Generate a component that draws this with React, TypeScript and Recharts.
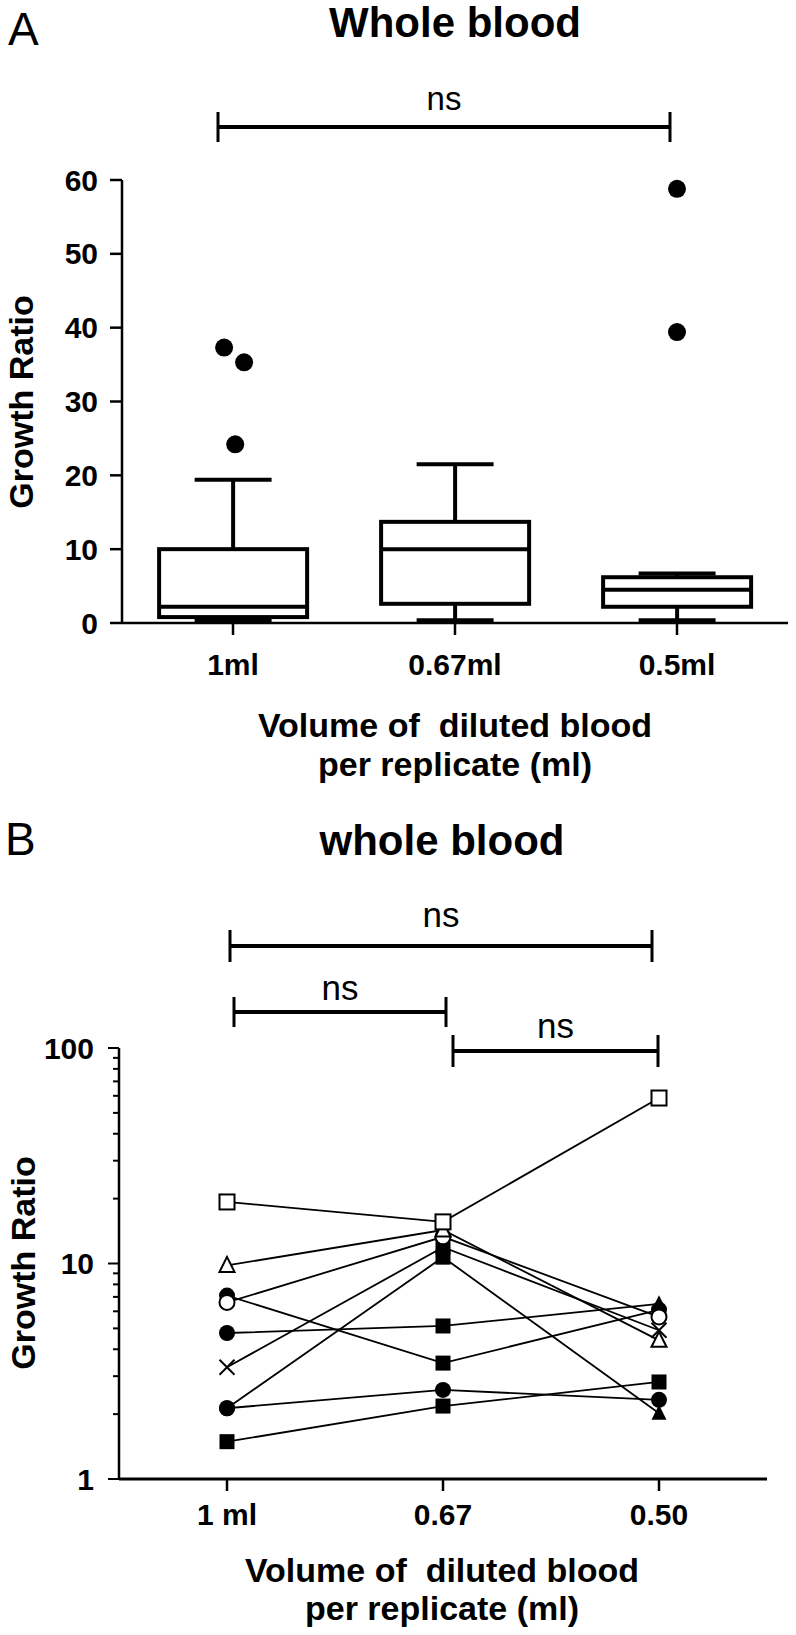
import React from 'react';
import { ComposedChart, LineChart, Bar, Scatter, Line, XAxis, YAxis } from 'recharts';

const FONT = '"Liberation Sans", Arial, Helvetica, sans-serif';

// ---- Panel A: box plot of growth ratio per volume ----
const volumesA = ['1ml', '0.67ml', '0.5ml'];
const whiskerLow = [0.3, 0.3, 0.3];
const quart1 = [0.8, 2.6, 2.2];
const medians = [2.2, 10.0, 4.5];
const quart3 = [10.0, 13.7, 6.2];
const whiskerHigh = [19.4, 21.5, 6.7];

// outliers: group index, value, small horizontal dodge (in category units)
const outlierGroup = [0, 0, 0, 2, 2];
const outlierValue = [37.3, 35.3, 24.2, 58.8, 39.4];
const outlierDodge = [-0.04, 0.05, 0.01, 0, 0];

const yTicksA = [0, 10, 20, 30, 40, 50, 60];

// ---- Panel B: paired values per replicate, log scale ----
const volumesB = ['1 ml', '0.67', '0.50'];
const donor1 = [19.3, 15.6, 58.6];
const donor2 = [9.8, 14.3, 4.4];
const donor3 = [6.6, 13.3, 5.65];
const donor4 = [7.1, 3.45, 6.1];
const donor5 = [4.76, 5.13, 6.5];
const donor6 = [3.3, 11.9, 4.9];
const donor7 = [2.13, 10.7, 2.02];
const donor8 = [2.13, 2.59, 2.33];
const donor9 = [1.49, 2.18, 2.82];

const shapes1 = ['oSq', 'oSq', 'oSq'];
const shapes2 = ['oTri', 'oTri', 'oTri'];
const shapes3 = ['oCirc', 'oCirc', 'oCirc'];
const shapes4 = ['fCirc', 'fSq', 'fCirc'];
const shapes5 = ['fCirc', 'fSq', 'fTri'];
const shapes6 = ['x', 'fSq', 'x'];
const shapes7 = ['fCirc', 'fSq', 'fTri'];
const shapes8 = ['fCirc', 'fCirc', 'fCirc'];
const shapes9 = ['fSq', 'fSq', 'fSq'];

const yTicksB = [1, 2, 3, 4, 5, 6, 7, 8, 9, 10, 20, 30, 40, 50, 60, 70, 80, 90, 100];
const majorB = [1, 10, 100];

const BOX_W = 148;

const boxRows = volumesA.map((v, i) => ({
  name: v,
  pos: i + 0.5,
  lo: whiskerLow[i],
  q1: quart1[i],
  med: medians[i],
  q3: quart3[i],
  hi: whiskerHigh[i],
}));

const outlierRows = outlierValue.map((v, i) => ({
  pos: outlierGroup[i] + 0.5 + outlierDodge[i],
  value: v,
}));

const donors = [donor1, donor2, donor3, donor4, donor5, donor6, donor7, donor8, donor9];
const donorShapes = [shapes1, shapes2, shapes3, shapes4, shapes5, shapes6, shapes7, shapes8, shapes9];

const rowsB = volumesB.map((v, i) => {
  const row: any = { vol: v };
  donors.forEach((d, k) => (row[`d${k}`] = d[i]));
  return row;
});

// the bar only supplies the centre and the pixel span lo..hi; the box is drawn around it
const BoxShape = (props: any) => {
  const { x, y, width, height, payload } = props;
  const top = Math.min(y, y + height);
  const bottom = Math.max(y, y + height);
  const py = (v: number) => bottom - ((v - payload.lo) / (payload.hi - payload.lo)) * (bottom - top);
  const cx = x + width / 2;
  const left = cx - BOX_W / 2;
  const cap = BOX_W * 0.26;
  return (
    <g stroke="#000" strokeWidth={4}>
      <line x1={cx} x2={cx} y1={py(payload.hi)} y2={py(payload.q3)} />
      <line x1={cx} x2={cx} y1={py(payload.q1)} y2={py(payload.lo)} />
      <line x1={cx - cap} x2={cx + cap} y1={py(payload.hi)} y2={py(payload.hi)} />
      <line x1={cx - cap} x2={cx + cap} y1={py(payload.lo)} y2={py(payload.lo)} strokeWidth={5} />
      <rect x={left} y={py(payload.q3)} width={BOX_W} height={py(payload.q1) - py(payload.q3)} fill="#fff" />
      <line x1={left} x2={left + BOX_W} y1={py(payload.med)} y2={py(payload.med)} />
    </g>
  );
};

const Marker = ({ cx, cy, kind }: { cx: number; cy: number; kind: string }) => {
  const s = 7.5;
  switch (kind) {
    case 'oSq':
      return <rect x={cx - s} y={cy - s} width={2 * s} height={2 * s} fill="#fff" stroke="#000" strokeWidth={2} />;
    case 'fSq':
      return <rect x={cx - s} y={cy - s} width={2 * s} height={2 * s} fill="#000" />;
    case 'oCirc':
      return <circle cx={cx} cy={cy} r={s} fill="#fff" stroke="#000" strokeWidth={2} />;
    case 'fCirc':
      return <circle cx={cx} cy={cy} r={s + 0.5} fill="#000" />;
    case 'oTri':
      return (
        <polygon
          points={`${cx},${cy - s - 1} ${cx - s},${cy + s - 1} ${cx + s},${cy + s - 1}`}
          fill="#fff"
          stroke="#000"
          strokeWidth={2}
        />
      );
    case 'fTri':
      return <polygon points={`${cx},${cy - s - 1} ${cx - s},${cy + s - 1} ${cx + s},${cy + s - 1}`} fill="#000" />;
    default:
      return (
        <g stroke="#000" strokeWidth={2}>
          <line x1={cx - s} x2={cx + s} y1={cy - s} y2={cy + s} />
          <line x1={cx - s} x2={cx + s} y1={cy + s} y2={cy - s} />
        </g>
      );
  }
};

const LogTick = (props: any) => {
  const { x, y, payload } = props;
  const major = majorB.includes(payload.value);
  return (
    <g>
      <line x1={x - (major ? 11 : 6)} x2={x} y1={y} y2={y} stroke="#000" strokeWidth={2} />
      {major && (
        <text x={x - 25} y={y} dy="0.36em" textAnchor="end" fontSize={30} fontWeight="bold" fontFamily={FONT} fill="#000">
          {payload.value}
        </text>
      )}
    </g>
  );
};

const tickStyle = { fontSize: 30, fontWeight: 'bold', fill: '#000', fontFamily: FONT } as any;

const SigBar = ({ x1, x2, y, h, label, ly, size }: any) => (
  <g>
    <line x1={x1} x2={x2} y1={y} y2={y} stroke="#000" strokeWidth={4} />
    <line x1={x1} x2={x1} y1={y - h} y2={y + h} stroke="#000" strokeWidth={3} />
    <line x1={x2} x2={x2} y1={y - h} y2={y + h} stroke="#000" strokeWidth={3} />
    <text x={(x1 + x2) / 2} y={ly} textAnchor="middle" fontSize={size} fontFamily={FONT} fill="#000">
      {label}
    </text>
  </g>
);

export default function App() {
  return (
    <div style={{ position: 'absolute', left: 0, top: 0, width: 796, height: 1635, background: '#fff', overflow: 'hidden' }}>
      <div style={{ position: 'absolute', left: 0, top: 0 }}>
        <ComposedChart width={796} height={800} data={boxRows} margin={{ top: 180, right: 8, bottom: 0, left: 0 }}>
          <XAxis
            dataKey="pos"
            type="number"
            domain={[0, 3]}
            ticks={[0.5, 1.5, 2.5]}
            tickFormatter={(v: number) => volumesA[Math.floor(v)]}
            height={177}
            axisLine={{ stroke: '#000', strokeWidth: 2.5 }}
            tickLine={{ stroke: '#000', strokeWidth: 2.5 }}
            tickSize={12}
            tickMargin={19}
            tick={tickStyle}
          />
          <YAxis
            type="number"
            domain={[0, 60]}
            ticks={yTicksA}
            width={122}
            axisLine={{ stroke: '#000', strokeWidth: 2.5 }}
            tickLine={{ stroke: '#000', strokeWidth: 2.5 }}
            tickSize={12}
            tickMargin={12}
            tick={tickStyle}
          />
          <Bar dataKey={(d: any) => [d.lo, d.hi]} shape={BoxShape} isAnimationActive={false} />
          <Scatter
            data={outlierRows}
            dataKey="value"
            isAnimationActive={false}
            shape={(p: any) => <circle cx={p.cx} cy={p.cy} r={9} fill="#000" />}
          />
        </ComposedChart>
      </div>

      <div style={{ position: 'absolute', left: 0, top: 860 }}>
        <LineChart width={796} height={700} data={rowsB} margin={{ top: 188, right: 29, bottom: 0, left: 0 }}>
          <XAxis
            dataKey="vol"
            padding={{ left: 108, right: 108 }}
            height={81}
            axisLine={{ stroke: '#000', strokeWidth: 3 }}
            tickLine={{ stroke: '#000', strokeWidth: 2.5 }}
            tickSize={12}
            tickMargin={13}
            tick={tickStyle}
          />
          <YAxis
            scale="log"
            type="number"
            domain={[1, 100]}
            ticks={yTicksB}
            interval={0}
            allowDataOverflow
            width={119}
            axisLine={{ stroke: '#000', strokeWidth: 2.5 }}
            tickLine={false}
            tickSize={0}
            tickMargin={0}
            tick={<LogTick />}
          />
          {donors
            .map((_, k) => k)
            .reverse()
            .map((k) => (
              <Line
                key={k}
                dataKey={`d${k}`}
                stroke="#000"
                strokeWidth={1.8}
                isAnimationActive={false}
                dot={(p: any) => <Marker key={`m${k}-${p.index}`} cx={p.cx} cy={p.cy} kind={donorShapes[k][p.index]} />}
                activeDot={false}
              />
            ))}
        </LineChart>
      </div>

      <svg width={796} height={1635} style={{ position: 'absolute', left: 0, top: 0, pointerEvents: 'none' }} fontFamily={FONT}>
        {/* panel A annotations */}
        <text x={8} y={45} fontSize={46}>A</text>
        <text x={455} y={37} fontSize={42} fontWeight="bold" textAnchor="middle">Whole blood</text>
        <SigBar x1={218} x2={670} y={127} h={15} label="ns" ly={110} size={33} />
        <text transform="translate(33,402) rotate(-90)" fontSize={34} fontWeight="bold" textAnchor="middle">Growth Ratio</text>
        <text x={455} y={737} fontSize={34} fontWeight="bold" textAnchor="middle" xmlSpace="preserve">Volume of  diluted blood</text>
        <text x={455} y={776} fontSize={34} fontWeight="bold" textAnchor="middle">per replicate (ml)</text>

        {/* panel B annotations */}
        <text x={5} y={855} fontSize={46}>B</text>
        <text x={442} y={855} fontSize={42} fontWeight="bold" textAnchor="middle">whole blood</text>
        <SigBar x1={230} x2={652} y={946} h={16} label="ns" ly={927} size={35} />
        <SigBar x1={234} x2={446} y={1012} h={15} label="ns" ly={1000} size={35} />
        <SigBar x1={453} x2={658} y={1051} h={16} label="ns" ly={1038} size={35} />
        <text transform="translate(35,1263) rotate(-90)" fontSize={34} fontWeight="bold" textAnchor="middle">Growth Ratio</text>
        <text x={442} y={1582} fontSize={34} fontWeight="bold" textAnchor="middle" xmlSpace="preserve">Volume of  diluted blood</text>
        <text x={442} y={1620} fontSize={34} fontWeight="bold" textAnchor="middle">per replicate (ml)</text>
      </svg>
    </div>
  );
}
